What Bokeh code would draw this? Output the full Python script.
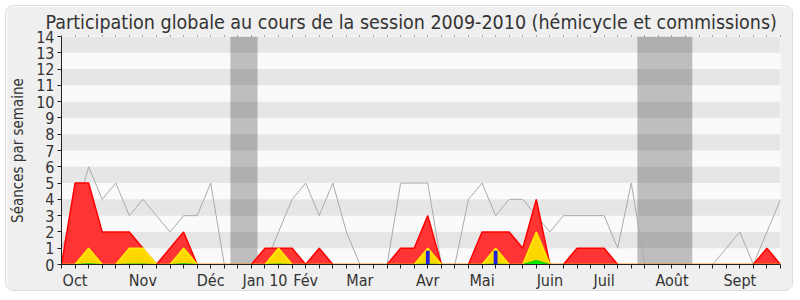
from bokeh.plotting import figure
from bokeh.models import FixedTicker, BoxAnnotation, LinearAxis, Range1d, ColumnDataSource
from bokeh.embed import file_html
from bokeh.resources import INLINE

weeks = list(range(54))
presence = [0, 5, 5, 2, 2, 2, 1, 0, 1, 2, 0, 0, 0, 0, 0, 1, 1, 1, 0, 1,
            0, 0, 0, 0, 0, 1, 1, 3, 0, 0, 0, 2, 2, 2, 1, 4, 0, 0, 1, 1,
            1, 0, 0, 0, 0, 0, 0, 0, 0, 0, 0, 0, 1, 0]
participation = [0, 0, 1, 0, 0, 1, 1, 0, 0, 1, 0, 0, 0, 0, 0, 0, 1, 0, 0, 0,
                 0, 0, 0, 0, 0, 0, 0, 1, 0, 0, 0, 0, 1, 0, 0, 2, 0, 0, 0, 0,
                 0, 0, 0, 0, 0, 0, 0, 0, 0, 0, 0, 0, 0, 0]
mots = [0, 0, 0.05, 0, 0, 0.03, 0.03, 0, 0, 0.05, 0, 0, 0, 0, 0, 0, 0.03, 0, 0, 0,
        0, 0, 0, 0, 0, 0, 0, 0.03, 0, 0, 0, 0, 0.03, 0, 0, 0.25, 0, 0, 0, 0,
        0, 0, 0, 0, 0, 0, 0, 0, 0, 0, 0, 0, 0, 0]
questions = [0, 0, 0, 0, 0, 0, 0, 0, 0, 0, 0, 0, 0, 0, 0, 0, 0, 0, 0, 0,
             0, 0, 0, 0, 0, 0, 0, 0.85, 0, 0, 0, 0, 0.85, 0, 0, 0, 0, 0, 0, 0,
             0, 0, 0, 0, 0, 0, 0, 0, 0, 0, 0, 0, 0, 0]
mediane = [1, 3, 6, 4, 5, 3, 4, 3, 2, 3, 3, 5, 0, 0, 0, 0, 2, 4, 5, 3,
           5, 2, 0, 0, 0, 5, 5, 5, 0, 0, 4, 5, 3, 4, 4, 3, 2, 3, 3, 3,
           3, 1, 5, 0, 0, 0, 0, 0, 0, 1, 2, 0, 2, 4]
month_labels = ["Oct", "Nov", "Déc", "Jan 10", "Fév", "Mar", "Avr", "Mai",
                "Juin", "Juil", "Août", "Sept"]
month_weeks = [1, 6, 11, 15, 18, 22, 27, 31, 36, 40, 45, 50]
vacances_debut = [12.45, 42.45]
vacances_fin = [14.45, 46.5]

FONT = "DejaVu Sans Condensed"
TXT = "#333333"

src = ColumnDataSource(dict(w=weeks, presence=presence, participation=participation,
                            mots=mots, questions=questions, mediane=mediane))

p = figure(width=788, height=286, x_range=Range1d(0, 53), y_range=Range1d(0, 14),
           output_backend="svg", toolbar_location=None,
           min_border_left=52, min_border_right=14, min_border_top=30, min_border_bottom=25)
p.styles = {"margin": "5px", "border": "1px solid #dddddd", "border-radius": "8px",
            "overflow": "hidden"}
p.background_fill_color = "#fafafa"
p.border_fill_color = "#efefef"
p.outline_line_color = None
p.xgrid.visible = False
p.ygrid.visible = False

p.title.text = "Participation globale au cours de la session 2009-2010 (hémicycle et commissions)"
p.title.align = "left"
p.title.text_font = FONT
p.title.text_font_size = "19.5px"
p.title.text_font_style = "normal"
p.title.text_color = TXT
p.title.standoff = 3
p.title.offset = -16

# stripes
for k in range(1, 14, 2):
    p.add_layout(BoxAnnotation(bottom=k, top=k + 1, fill_color="#e6e6e6", fill_alpha=1,
                               line_color=None, level="underlay"))
for a, b in zip(vacances_debut, vacances_fin):
    p.add_layout(BoxAnnotation(left=a, right=b, fill_color="#000000", fill_alpha=0.24,
                               line_color=None, level="underlay"))

p.line("w", "mediane", source=src, line_color="#aaaaaa", line_width=1)
p.varea(x="w", y1=0, y2="presence", source=src, fill_color="#ff3535")
p.line("w", "presence", source=src, line_color="#ff0000", line_width=1.5)
p.varea(x="w", y1=0, y2="participation", source=src, fill_color="#ffd700")
p.line("w", "participation", source=src, line_color="#ffee00", line_width=1.5)
p.varea(x="w", y1=0, y2="mots", source=src, fill_color="#00ee00")
p.line("w", "mots", source=src, line_color="#00cc00", line_width=1)
p.vbar(x="w", top="questions", width=0.28, source=src, fill_color="#2020dd", line_color=None)

xa = p.xaxis[0]
xa.ticker = FixedTicker(ticks=weeks)
ov = {w: "" for w in weeks}
for w, lab in zip(month_weeks, month_labels):
    ov[w] = lab
xa.major_label_overrides = ov
xa.major_tick_in = 0
xa.major_tick_out = 4
xa.minor_tick_line_color = None
xa.axis_line_color = "#222222"
xa.major_tick_line_color = "#222222"
xa.major_label_text_font = FONT
xa.major_label_text_font_size = "16px"
xa.major_label_text_color = TXT
xa.major_label_standoff = 2

ya = p.yaxis[0]
ya.ticker = FixedTicker(ticks=list(range(15)))
ya.major_tick_in = 0
ya.major_tick_out = 4
ya.minor_tick_line_color = None
ya.axis_line_color = "#222222"
ya.major_tick_line_color = "#222222"
ya.major_label_text_font = FONT
ya.major_label_text_font_size = "16px"
ya.major_label_text_color = TXT
ya.major_label_standoff = 3
ya.axis_label = "Séances par semaine"
ya.axis_label_text_font = FONT
ya.axis_label_text_font_size = "15px"
ya.axis_label_text_font_style = "normal"
ya.axis_label_text_color = TXT
ya.axis_label_standoff = 6

top = LinearAxis(ticker=FixedTicker(ticks=weeks), axis_line_color=None,
                 major_tick_in=0, major_tick_out=1, major_tick_line_color="#555555",
                 minor_tick_line_color=None, major_label_text_font_size="0px",
                 major_label_standoff=0)
top.major_label_overrides = {w: "" for w in weeks}
p.add_layout(top, "above")

open("out.html", "w").write(file_html(p, INLINE))
